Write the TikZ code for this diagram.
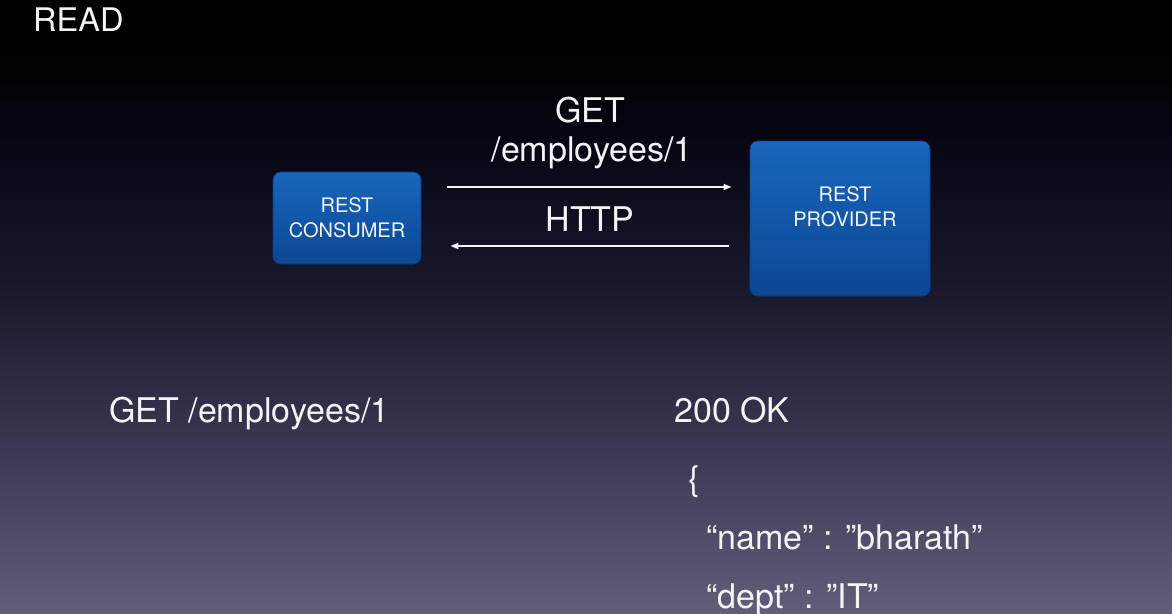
\documentclass[tikz,border=0pt]{standalone}
\usepackage{fontspec}
\setmainfont{TeX Gyre Heros}
\usetikzlibrary{arrows.meta,calc}

% slide background: black at the top fading to a grey violet at the bottom
\definecolor{bgTop}{HTML}{000000}
\definecolor{bgA}{HTML}{070716}
\definecolor{bgB}{HTML}{1B1A2E}
\definecolor{bgC}{HTML}{3A3953}
\definecolor{bgD}{HTML}{605F79}
\pgfdeclareverticalshading{slidebg}{100bp}{%
  color(0bp)=(bgD); color(25bp)=(bgD); color(38.3bp)=(bgC);
  color(50.5bp)=(bgB); color(62.8bp)=(bgA); color(71bp)=(bgTop);
  color(100bp)=(bgTop)}

% blue boxes
\definecolor{boxtop}{HTML}{1966BB}
\definecolor{boxbot}{HTML}{0B4794}
\definecolor{boxedge}{HTML}{0A3D82}
\definecolor{ink}{HTML}{F4F4F6}

\tikzset{
  box/.style={rounded corners=8pt, draw=boxedge, line width=0.8pt,
    top color=boxtop, bottom color=boxbot, inner sep=0pt},
  boxlabel/.style={text=ink, align=center, inner sep=0pt,
    font=\fontsize{20}{25}\selectfont},
  big/.style={text=ink, inner sep=0pt, font=\fontsize{34}{40}\selectfont},
  heading/.style={text=ink, inner sep=0pt, font=\fontsize{32.5}{38}\selectfont},
  msg/.style={draw=ink, line width=1.6pt,
    -{Triangle[length=8pt,width=6pt]}},
}

\begin{document}
\begin{tikzpicture}[x=1pt,y=-1pt]
  \shade[shading=slidebg] (0,0) rectangle (1172,613);
  \useasboundingbox (0,0) rectangle (1172,613);

  % title
  \node[heading, anchor=base west] (read) at (33,31) {READ};

  % consumer and provider
  \node[box, boxlabel, minimum width=148pt, minimum height=92pt] (cons) at (347,218) {REST\\CONSUMER};
  \node[box, minimum width=180pt, minimum height=155pt] (prov) at (840,218.5) {};
  \node[boxlabel] (provtxt) at (845,206.5) {REST\\PROVIDER};

  % request / response arrows
  \coordinate (upper) at (0,187);
  \coordinate (lower) at (0,246);
  \draw[msg, shorten <=26pt, shorten >=18pt] (cons.east |- upper) -- (prov.west |- upper);
  \draw[msg, shorten <=21pt, shorten >=29pt] (prov.west |- lower) -- (cons.east |- lower);

  \node[big, anchor=base] (get) at (590,122) {GET};
  \node[big, anchor=base] (uri) at (592,161) {/employees/1};
  \node[big, anchor=base] (http) at (590,231) {HTTP};

  % request and response text
  \node[big, anchor=base west] (req) at (109,422) {GET /employees/1};
  \node[big, anchor=base west] (status) at (674,422) {200 OK};
  \node[big, anchor=base west] (open) at (688,490) {\{};
  \node[big, anchor=base west] (name) at (706,549) {“name” : ”bharath”};
  \node[big, anchor=base west] (dept) at (706,608) {“dept” : ”IT”};
\end{tikzpicture}
\end{document}
